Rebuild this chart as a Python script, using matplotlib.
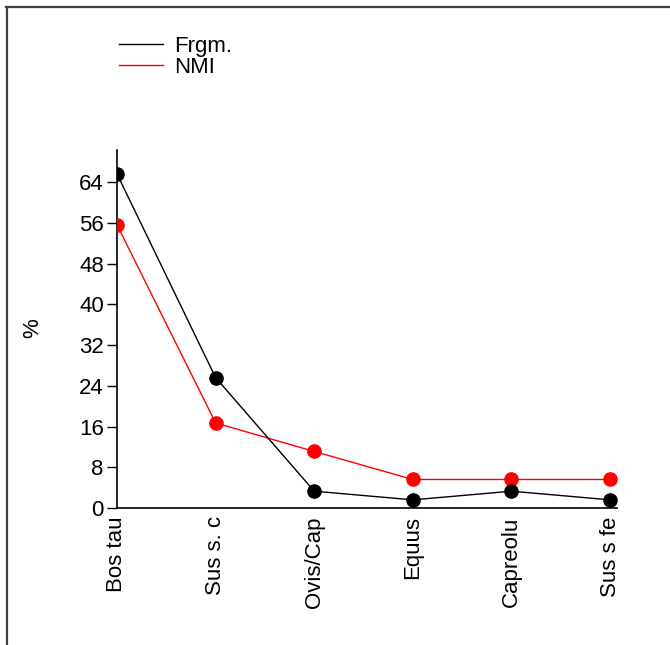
import matplotlib
matplotlib.use("Agg")
import matplotlib.pyplot as plt
from matplotlib.lines import Line2D

plt.rcParams["font.family"] = ["Liberation Sans", "DejaVu Sans"]

# data
categories = ["Bos tau", "Sus s. c", "Ovis/Cap", "Equus", "Capreolu", "Sus s fe"]
frgm = [65.6, 25.6, 3.3, 1.6, 3.3, 1.6]
nmi = [55.6, 16.7, 11.1, 5.6, 5.6, 5.6]
y_ticks = [0, 8, 16, 24, 32, 40, 48, 56, 64]

W, H = 670, 645
fig = plt.figure(figsize=(W / 100, H / 100), dpi=100)
ax = fig.add_axes([117 / W, 1 - 508 / H, (617 - 117) / W, (508 - 150) / H])

x = list(range(len(categories)))
ax.plot(x, nmi, color="#ff0000", lw=1, marker="o", ms=9.5, zorder=3)
ax.plot(x, frgm, color="black", lw=1, marker="o", ms=9.5, zorder=4)

ax.set_xlim(0, 5.07)
ax.set_ylim(0, 70.3)
ax.set_yticks(y_ticks)
ax.set_xticks(x)
ax.set_xticklabels(categories, rotation=90, va="top", ha="center")

for side in ("top", "right"):
    ax.spines[side].set_visible(False)
for side in ("left", "bottom"):
    ax.spines[side].set_linewidth(1.2)

ax.tick_params(axis="y", length=7.5, width=1, pad=2, labelsize=16)
ax.tick_params(axis="x", length=0, pad=6, labelsize=16)

fig.text(33 / W, 1 - 328 / H, "%", rotation=90, fontsize=16,
         ha="center", va="center")

# legend (lines only, no markers)
handles = [Line2D([], [], color="black", lw=1),
           Line2D([], [], color="#ff0000", lw=1)]
fig.legend(handles, ["Frgm.", "NMI"], loc="upper left",
           bbox_to_anchor=(110 / W, 1 - 27 / H), frameon=False,
           fontsize=16, handlelength=2.0, handletextpad=0.5,
           labelspacing=0.0, borderaxespad=0)

# frame lines on the top and left of the picture
fig.add_artist(Line2D([6 / W, 1], [1 - 7 / H, 1 - 7 / H], color="#404040",
                      lw=1.6, transform=fig.transFigure))
fig.add_artist(Line2D([7 / W, 7 / W], [0, 1 - 7 / H], color="#404040",
                      lw=1.6, transform=fig.transFigure))

fig.savefig("out.png", dpi=100)
